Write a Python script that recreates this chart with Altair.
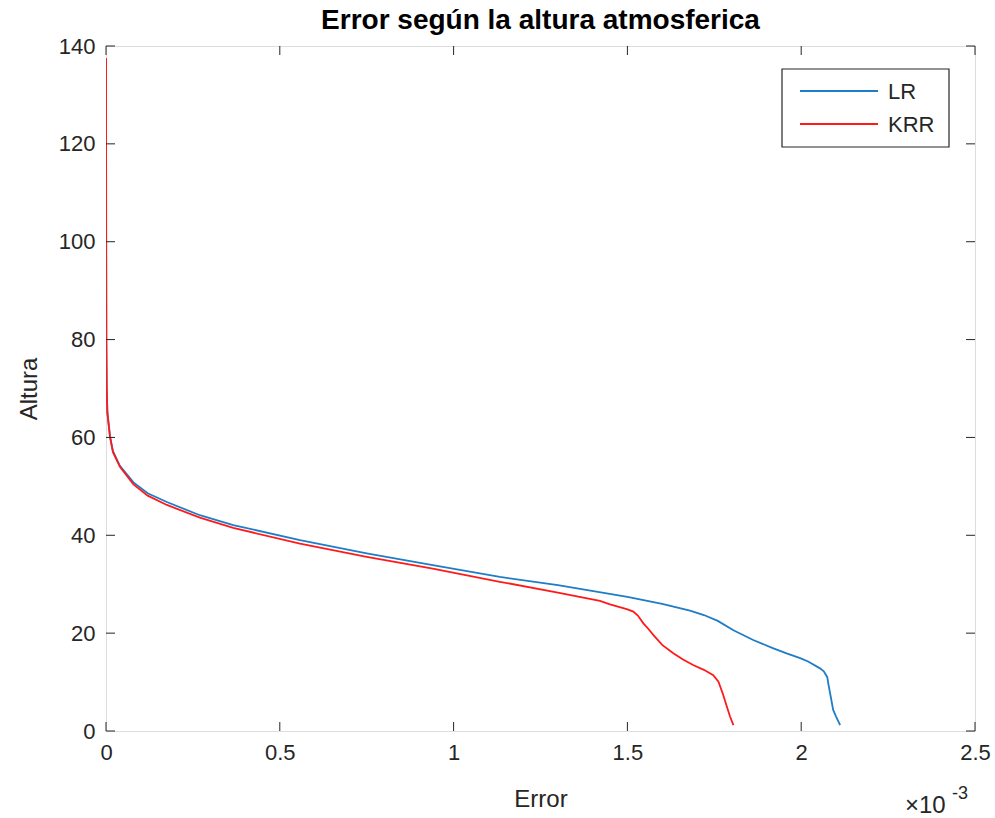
import altair as alt
import pandas as pd

# ---- data (x in units of 1e-3) ----
lr_err = [2.112, 2.100, 2.092, 2.085, 2.078, 2.075, 2.065, 2.054, 2.020, 1.997, 1.960, 1.920,
          1.862, 1.805, 1.760, 1.720, 1.680, 1.600, 1.500, 1.300, 1.133, 0.940, 0.750, 0.558,
          0.366, 0.270, 0.175, 0.120, 0.079, 0.040, 0.020, 0.0115, 0.004, 0.002, 0.001, 0.0005, 0.0003, 0.0002]
lr_alt = [1.2, 3.0, 4.3, 7.0, 9.7, 11.0, 12.2, 12.8, 14.2, 14.9, 15.8, 16.9,
          18.6, 20.6, 22.5, 23.7, 24.6, 26.0, 27.4, 29.8, 31.5, 33.9, 36.3, 39.0,
          42.1, 44.1, 46.8, 48.6, 50.8, 54.2, 57.2, 60.2, 65.0, 70.0, 80.0, 100.0, 120.0, 137.5]

krr_err = [1.805, 1.795, 1.786, 1.775, 1.762, 1.747, 1.720, 1.689, 1.660, 1.632, 1.600, 1.575,
           1.560, 1.546, 1.530, 1.517, 1.498, 1.450, 1.421, 1.300, 1.133, 0.940, 0.750, 0.558,
           0.366, 0.270, 0.175, 0.120, 0.079, 0.040, 0.020, 0.0115, 0.004, 0.002, 0.001, 0.0005, 0.0003, 0.0002]
krr_alt = [1.2, 3.0, 5.0, 7.5, 10.1, 11.4, 12.5, 13.5, 14.6, 15.9, 17.6, 19.6,
           20.9, 22.0, 23.6, 24.4, 24.9, 25.9, 26.6, 28.3, 30.5, 33.2, 35.6, 38.3,
           41.5, 43.6, 46.2, 48.1, 50.4, 54.0, 57.0, 60.1, 65.0, 70.0, 80.0, 100.0, 120.0, 137.5]

series = ["LR", "KRR"]
colors = ["#1f7cc6", "#ff1a1a"]
x_ticks = [0, 0.5, 1, 1.5, 2, 2.5]
y_ticks = [0, 20, 40, 60, 80, 100, 120, 140]

W, H = 869, 685
TXT = "#262626"
FONT = "Liberation Sans"

rows = []
for i, (e, a) in enumerate(zip(lr_err, lr_alt)):
    rows.append({"s": "LR", "err": e, "alt": a, "o": i})
for i, (e, a) in enumerate(zip(krr_err, krr_alt)):
    rows.append({"s": "KRR", "err": e, "alt": a, "o": i})
df = pd.DataFrame(rows)

xs = alt.Scale(domain=[0, 2.5], nice=False)
ys = alt.Scale(domain=[0, 140], nice=False)

lines = alt.Chart(df).mark_line(strokeWidth=1.8, clip=True).encode(
    x=alt.X("err:Q", scale=xs, title="Error",
            axis=alt.Axis(values=x_ticks, grid=False, ticks=False, domain=False,
                          labelFontSize=22, labelFont=FONT, labelColor=TXT, labelFlush=False,
                          labelPadding=11, titleFontSize=24, titleFont=FONT,
                          titleColor=TXT, titleFontWeight="normal", titlePadding=24,
                          labelExpr="datum.value == 0 ? '0' : format(datum.value, '.1~f')")),
    y=alt.Y("alt:Q", scale=ys, title="Altura",
            axis=alt.Axis(values=y_ticks, grid=False, ticks=False, domain=False,
                          labelFontSize=22, labelFont=FONT, labelColor=TXT, labelFlush=False,
                          labelPadding=11, titleFontSize=24, titleFont=FONT,
                          titleColor=TXT, titleFontWeight="normal", titlePadding=17)),
    color=alt.Color("s:N", scale=alt.Scale(domain=series, range=colors),
                    sort=series, legend=None),
    detail="s:N",
    order="o:Q",
)

xt = pd.DataFrame({"v": x_ticks})
yt = pd.DataFrame({"v": y_ticks})
TL = 9
tick_b = alt.Chart(xt).mark_rule(color=TXT, strokeWidth=1).encode(
    x=alt.X("v:Q", scale=xs), y=alt.value(H), y2=alt.value(H - TL))
tick_t = alt.Chart(xt).mark_rule(color=TXT, strokeWidth=1).encode(
    x=alt.X("v:Q", scale=xs), y=alt.value(0), y2=alt.value(TL))
tick_l = alt.Chart(yt).mark_rule(color=TXT, strokeWidth=1).encode(
    y=alt.Y("v:Q", scale=ys), x=alt.value(0), x2=alt.value(TL))
tick_r = alt.Chart(yt).mark_rule(color=TXT, strokeWidth=1).encode(
    y=alt.Y("v:Q", scale=ys), x=alt.value(W - TL), x2=alt.value(W))

# legend (manual, MATLAB style)
one = pd.DataFrame({"a": [0]})
leg_box = alt.Chart(one).mark_rect(fill="white", stroke=TXT, strokeWidth=1.2).encode(
    x=alt.value(676), x2=alt.value(843), y=alt.value(23), y2=alt.value(101))
leg_layers = [leg_box]
for i, (s, c) in enumerate(zip(series, colors)):
    yy = 45 + 33 * i
    leg_layers.append(alt.Chart(one).mark_rule(color=c, strokeWidth=1.8).encode(
        x=alt.value(694), x2=alt.value(772), y=alt.value(yy)))
    leg_layers.append(alt.Chart(pd.DataFrame({"t": [s]})).mark_text(
        align="left", baseline="middle", fontSize=22, font=FONT, color=TXT, dy=1
    ).encode(x=alt.value(782), y=alt.value(yy), text="t:N"))

mult = alt.Chart(pd.DataFrame({"t": ["×10"]})).mark_text(
    align="left", baseline="alphabetic", fontSize=24, font=FONT, color=TXT
).encode(x=alt.value(799), y=alt.value(767), text="t:N")
expo = alt.Chart(pd.DataFrame({"t": ["-3"]})).mark_text(
    align="left", baseline="alphabetic", fontSize=18, font=FONT, color=TXT
).encode(x=alt.value(846), y=alt.value(753), text="t:N")

chart = alt.layer(lines, tick_b, tick_t, tick_l, tick_r, *leg_layers, mult, expo).properties(
    width=W, height=H,
    title=alt.Title("Error según la altura atmosferica", fontSize=28, font=FONT,
                    fontWeight="bold", color="black", anchor="middle", offset=0),
    autosize=alt.AutoSizeParams(type="none"),
    padding={"left": 106, "top": 46, "right": 20, "bottom": 87},
).configure_view(stroke=TXT, strokeWidth=1.2).configure(background="white")

chart.save("out.html", embed_options={"renderer": "svg", "actions": False})
